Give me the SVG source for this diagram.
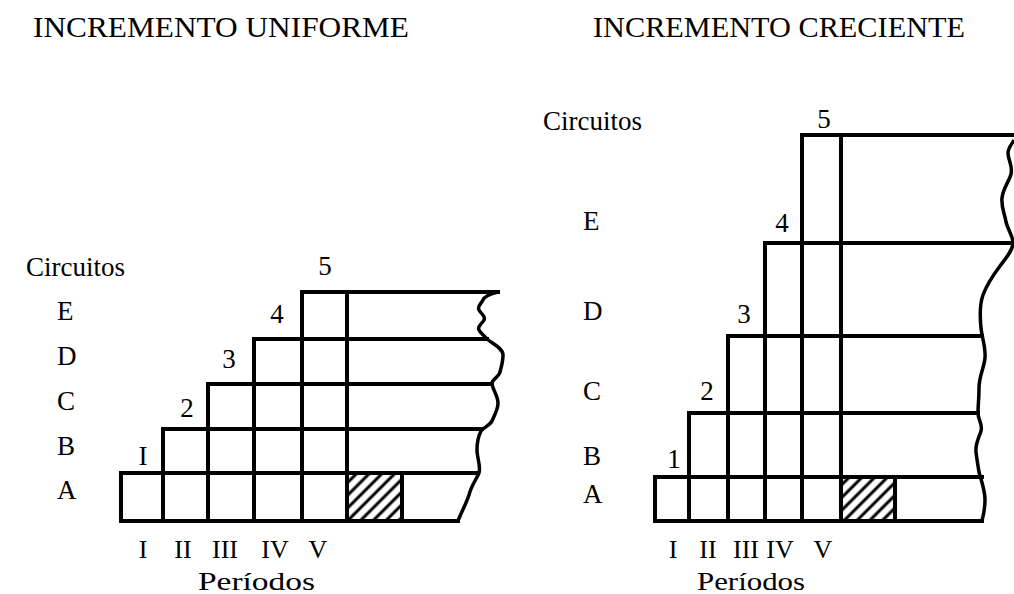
<svg xmlns="http://www.w3.org/2000/svg" width="1014" height="594" viewBox="0 0 1014 594">
<style>
  text { font-family: "Liberation Serif", "Times New Roman", serif; fill: #000; }
  .title { font-size: 30px; }
  .lbl { font-size: 27px; }
  .per { font-size: 26px; }
  .grid line, .grid path { stroke: #000; stroke-width: 4; fill: none; stroke-linecap: square; }
  .wave { stroke: #000; stroke-width: 3.5; fill: none; stroke-linejoin: round; }
</style>
<defs>
  <pattern id="hatch" patternUnits="userSpaceOnUse" width="9" height="9" patternTransform="rotate(45)">
    <line x1="2" y1="0" x2="2" y2="9" stroke="#000" stroke-width="3"/>
  </pattern>
</defs>
<rect width="1014" height="594" fill="#fff"/>

<g id="titles">
  <text class="title" x="33" y="37" textLength="376" lengthAdjust="spacingAndGlyphs">INCREMENTO UNIFORME</text>
  <text class="title" x="593" y="37" textLength="372" lengthAdjust="spacingAndGlyphs">INCREMENTO CRECIENTE</text>
</g>

<!-- LEFT CHART -->
<g id="chart-uniforme">
  <rect id="hatched-left" x="349" y="475" width="51" height="44" fill="url(#hatch)"/>
  <g class="grid">
    <line x1="302" y1="292" x2="498" y2="292"/>
    <line x1="254" y1="339" x2="487" y2="339"/>
    <line x1="208" y1="384" x2="492" y2="384"/>
    <line x1="163" y1="429" x2="482" y2="429"/>
    <line x1="121" y1="473" x2="477" y2="473"/>
    <line x1="121" y1="521" x2="458" y2="521"/>
    <line x1="121" y1="473" x2="121" y2="521"/>
    <line x1="163" y1="429" x2="163" y2="521"/>
    <line x1="208" y1="384" x2="208" y2="521"/>
    <line x1="254" y1="339" x2="254" y2="521"/>
    <line x1="302" y1="292" x2="302" y2="521"/>
    <line x1="347" y1="292" x2="347" y2="521"/>
    <line x1="402" y1="473" x2="402" y2="521"/>
  </g>
  <path class="wave" d="M498,292 C490,294 484,297 483,300 C481,304 477,306 479,310 C481,314 486,316 484,320 C482,324 477,326 479,330 C481,334 485,336 487,339 C493,344 503,348 503,355 C503,362 501,368 500,372 C499,377 491,380 492,384 C493,390 498,396 498,403 C498,410 494,416 492,421 C489,426 483,428 481,431 C478,437 477,443 477,450 C477,458 481,466 479,473 C476,480 471,486 469,495 C466,504 461,513 458,521"/>
  <g id="labels-left">
    <text class="lbl" x="125" y="276" text-anchor="end" font-size="28">Circuitos</text>
    <text class="lbl" x="57" y="320">E</text>
    <text class="lbl" x="57" y="365">D</text>
    <text class="lbl" x="57" y="410">C</text>
    <text class="lbl" x="57" y="455">B</text>
    <text class="lbl" x="57" y="499">A</text>
    <text class="lbl" x="143" y="465" text-anchor="middle">I</text>
    <text class="lbl" x="187" y="417" text-anchor="middle">2</text>
    <text class="lbl" x="229" y="368" text-anchor="middle">3</text>
    <text class="lbl" x="277" y="323" text-anchor="middle">4</text>
    <text class="lbl" x="325" y="275" text-anchor="middle">5</text>
    <text class="per" x="143" y="558" text-anchor="middle">I</text>
    <text class="per" x="183" y="558" text-anchor="middle">II</text>
    <text class="per" x="225" y="558" text-anchor="middle">III</text>
    <text class="per" x="275" y="558" text-anchor="middle">IV</text>
    <text class="per" x="318" y="558" text-anchor="middle">V</text>
    <text class="per" x="198" y="590" textLength="117" lengthAdjust="spacingAndGlyphs">Períodos</text>
  </g>
</g>

<!-- RIGHT CHART -->
<g id="chart-creciente">
  <rect id="hatched-right" x="843" y="479" width="50" height="40" fill="url(#hatch)"/>
  <g class="grid">
    <line x1="802" y1="135" x2="1014" y2="135"/>
    <line x1="765" y1="243" x2="1013" y2="243"/>
    <line x1="728" y1="336" x2="982" y2="336"/>
    <line x1="689" y1="413" x2="978" y2="413"/>
    <line x1="655" y1="477" x2="982" y2="477"/>
    <line x1="655" y1="521" x2="982" y2="521"/>
    <line x1="655" y1="477" x2="655" y2="521"/>
    <line x1="689" y1="413" x2="689" y2="521"/>
    <line x1="728" y1="336" x2="728" y2="521"/>
    <line x1="765" y1="243" x2="765" y2="521"/>
    <line x1="802" y1="135" x2="802" y2="521"/>
    <line x1="841" y1="135" x2="841" y2="521"/>
    <line x1="895" y1="477" x2="895" y2="521"/>
  </g>
  <path class="wave" d="M1014,140 C1012,144 1008,148 1008,153 C1008,160 1013,166 1011,174 C1009,182 1003,188 1002,198 C1001,208 1005,214 1006,222 C1008,230 1013,236 1013,243 C1013,250 1006,258 1000,266 C994,274 987,284 983,295 C979,306 980,318 981,328 C982,338 986,348 985,358 C984,368 979,376 979,388 C979,398 978,406 978,413 C978,420 983,424 981,431 C979,438 975,444 976,452 C977,460 978,466 979,472 C981,480 985,490 985,500 C985,510 983,516 982,521"/>
  <g id="labels-right">
    <text class="lbl" x="642" y="130" text-anchor="end" font-size="28">Circuitos</text>
    <text class="lbl" x="583" y="230">E</text>
    <text class="lbl" x="583" y="320">D</text>
    <text class="lbl" x="583" y="400">C</text>
    <text class="lbl" x="583" y="465">B</text>
    <text class="lbl" x="583" y="503">A</text>
    <text class="lbl" x="674" y="468" text-anchor="middle">1</text>
    <text class="lbl" x="707" y="400" text-anchor="middle">2</text>
    <text class="lbl" x="744" y="323" text-anchor="middle">3</text>
    <text class="lbl" x="782" y="232" text-anchor="middle">4</text>
    <text class="lbl" x="824" y="128" text-anchor="middle">5</text>
    <text class="per" x="673" y="558" text-anchor="middle">I</text>
    <text class="per" x="708" y="558" text-anchor="middle">II</text>
    <text class="per" x="746" y="558" text-anchor="middle">III</text>
    <text class="per" x="780" y="558" text-anchor="middle">IV</text>
    <text class="per" x="823" y="558" text-anchor="middle">V</text>
    <text class="per" x="697" y="590" textLength="108" lengthAdjust="spacingAndGlyphs">Períodos</text>
  </g>
</g>
</svg>
